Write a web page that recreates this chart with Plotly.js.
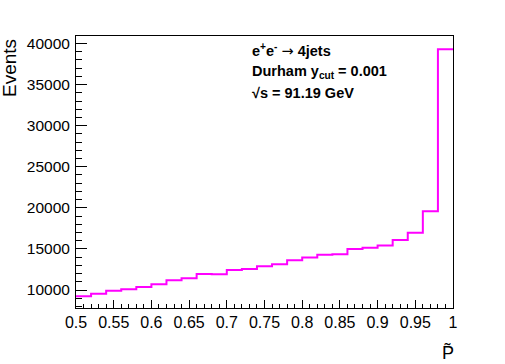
<!DOCTYPE html>
<html>
<head>
<meta charset="utf-8">
<script src="https://cdn.plot.ly/plotly-3.0.1.min.js"></script>
<style>
  body { margin: 0; background: #fff; }
  #graph { width: 505px; height: 364px; }
</style>
</head>
<body>
<div id="graph"></div>
<script>
  // bin low edges (last one is the upper edge of the last bin)
  var binEdges = [0.50, 0.52, 0.54, 0.56, 0.58, 0.60, 0.62, 0.64, 0.66, 0.68,
                  0.70, 0.72, 0.74, 0.76, 0.78, 0.80, 0.82, 0.84, 0.86, 0.88,
                  0.90, 0.92, 0.94, 0.96, 0.98, 1.00];
  var events = [9230, 9550, 9920, 10080, 10360, 10690, 11180, 11420, 11950, 11910,
                12430, 12550, 12880, 13120, 13610, 13970, 14300, 14340, 14990, 15150,
                15430, 16080, 16970, 19570, 39300];
  var labels = ['e<sup>+</sup>e<sup>-</sup> <span style="font-family:DejaVu Sans;font-weight:normal">\u2192</span> 4jets',
                'Durham y<sub>cut</sub> = 0.001',
                '\u221As = 91.19 GeV'];

  // step histogram: repeat last value so the last bin is drawn to the edge
  var ySteps = events.slice();
  ySteps.push(events[events.length - 1]);

  var trace1 = {
    x: binEdges,
    y: ySteps,
    mode: 'lines',
    line: {shape: 'hv', color: '#ff00ff', width: 2},
    type: 'scatter',
    hoverinfo: 'skip'
  };

  var font = 'Liberation Sans, Arial, Helvetica, sans-serif';

  var annotations = [];
  var labelY = [50, 72, 93];
  for (i = 0; i < labels.length; i++) {
    annotations.push({
      text: '<b>' + labels[i] + '</b>',
      xref: 'paper', yref: 'paper',
      x: 0, y: 1, xanchor: 'left', yanchor: 'middle',
      xshift: 174, yshift: 36 - labelY[i],
      showarrow: false,
      font: {family: font, size: 14.5, color: '#000'}
    });
  }
  annotations.push({
    text: 'Events', textangle: -90,
    xref: 'paper', yref: 'paper',
    x: 0, y: 1, xanchor: 'center', yanchor: 'top',
    xshift: -67, yshift: -1,
    showarrow: false,
    font: {family: font, size: 19, color: '#000'}
  });
  annotations.push({
    text: 'P\u0303',
    xref: 'paper', yref: 'paper',
    x: 1, y: 0, xanchor: 'center', yanchor: 'middle',
    xshift: -5, yshift: -44,
    showarrow: false,
    font: {family: font, size: 18, color: '#000'}
  });

  var layout = {
    width: 505, height: 364,
    margin: {l: 76, r: 52, t: 36, b: 56},
    paper_bgcolor: '#fff', plot_bgcolor: '#fff',
    showlegend: false,
    font: {family: font, size: 16, color: '#000'},
    xaxis: {
      range: [0.5, 1], dtick: 0.05, tick0: 0.5,
      ticks: 'inside', ticklen: 8, tickcolor: '#000', tickwidth: 1,
      minor: {dtick: 0.01, ticks: 'inside', ticklen: 4, tickcolor: '#000'},
      showgrid: false, zeroline: false,
      showline: true, linecolor: '#000', linewidth: 1, mirror: true,
      tickfont: {family: font, size: 16}
    },
    yaxis: {
      range: [7810, 40910], dtick: 5000, tick0: 0,
      tickformat: 'd',
      ticks: 'inside', ticklen: 11, tickcolor: '#000', tickwidth: 1,
      minor: {dtick: 1000, ticks: 'inside', ticklen: 6, tickcolor: '#000'},
      showgrid: false, zeroline: false,
      showline: true, linecolor: '#000', linewidth: 1, mirror: true,
      tickfont: {family: font, size: 15.5},
      ticklabelstandoff: 2
    },
    annotations: annotations
  };

  Plotly.newPlot('graph', [trace1], layout, {staticPlot: true});
</script>
</body>
</html>
